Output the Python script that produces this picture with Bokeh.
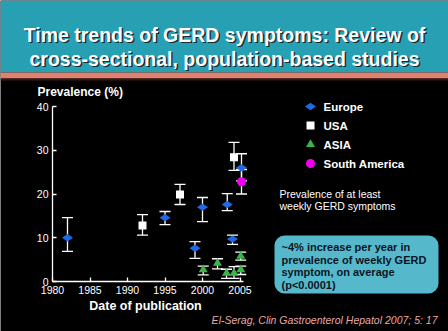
import numpy as np
from bokeh.plotting import figure
from bokeh.models import Range1d, LinearAxis, FixedTicker, ColumnDataSource, Whisker, TeeHead, BoxAnnotation
from bokeh.core.properties import value
from bokeh.embed import file_html
from bokeh.resources import INLINE

# ---------------- data ----------------
europe_year = [1982, 1995, 1999, 2000, 2003.3, 2004, 2005.2]
europe_prev = [10.0, 14.6, 7.6, 17.0, 17.6, 9.7, 26.0]
europe_low = [6.9, 13.0, 5.3, 13.7, 16.2, 8.5, 23.0]
europe_high = [14.6, 16.0, 9.1, 19.2, 20.1, 10.6, 29.2]

usa_year = [1992, 1997, 2004.2]
usa_prev = [12.8, 19.9, 28.4]
usa_low = [10.6, 17.6, 25.4]
usa_high = [15.3, 22.2, 31.8]

asia_year = [2000.1, 2002, 2003.2, 2004.2, 2005.1, 2005.1]
asia_prev = [2.7, 4.2, 1.9, 1.9, 5.8, 2.7]
asia_low = [1.5, 2.9, 0.7, 0.7, 4.9, 1.6]
asia_high = [3.5, 5.2, 2.8, 3.4, 6.7, 3.5]

sa_year = [2005.2]
sa_prev = [22.8]
sa_low = [20.0]
sa_high = [25.6]

x_ticks = [1980, 1985, 1990, 1995, 2000, 2005]
y_ticks = [0, 10, 20, 30, 40]

legend_names = ["Europe", "USA", "ASIA", "South America"]
title_lines = ["Time trends of GERD symptoms: Review of",
               "cross-sectional, population-based studies"]
note_lines = ["Prevalence of at least", "weekly GERD symptoms"]
box_lines = ["~4% increase per year in", "prevalence of weekly GERD",
             "symptom, on average", "(p<0.0001)"]
citation = "El-Serag, Clin Gastroenterol Hepatol 2007; 5: 17"

# ---------------- layout ----------------
W, H = 448, 331
FONT = "Liberation Sans"
PX_PER_YEAR = 7.5
PX_PER_PCT = 4.375
X_AX_PX, Y_AX_PX = 52, 281
X0 = 1980 - X_AX_PX / PX_PER_YEAR
X1 = X0 + W / PX_PER_YEAR
Y1 = Y_AX_PX / PX_PER_PCT
Y0 = Y1 - H / PX_PER_PCT

p = figure(width=W, height=H, x_range=Range1d(X0, X1), y_range=Range1d(Y0, Y1),
           x_axis_type=None, y_axis_type=None, toolbar_location=None,
           output_backend="svg", min_border=0,
           background_fill_color="black", border_fill_color="black",
           outline_line_color=None)
p.extra_x_ranges = {"px": Range1d(0, W)}
p.extra_y_ranges = {"px": Range1d(H, 0)}
PX = dict(x_range_name="px", y_range_name="px")

# title band
p.quad(left=0, right=W, top=0, bottom=72, fill_color="#28a0b4", line_color=None, **PX)
p.quad(left=0, right=W, top=72, bottom=78, fill_color="#e0806e", line_color=None, **PX)
p.quad(left=0, right=W, top=78, bottom=80, fill_color="#3a1a16", line_color=None, **PX)
p.text(x=[225.5, 225.5], y=[35.5, 59.5], text=title_lines, text_color="#1a2a30",
       text_align="center", text_baseline="middle", text_font=value(FONT),
       text_font_style="bold", text_font_size="19.5px", **PX)
p.text(x=[224, 224], y=[34, 58], text=title_lines, text_color="white",
       text_align="center", text_baseline="middle", text_font=value(FONT),
       text_font_style="bold", text_font_size="19.5px", **PX)

# axes
def style_axis(ax):
    ax.axis_line_color = "white"
    ax.axis_line_width = 1.3
    ax.major_tick_line_color = "white"
    ax.major_tick_line_width = 1.3
    ax.major_tick_in = 4
    ax.major_tick_out = 0
    ax.minor_tick_line_color = None
    ax.major_label_text_color = "white"
    ax.major_label_text_font = FONT
    ax.major_label_text_font_size = "10.5px"

yaxis = LinearAxis(fixed_location=1980, bounds=(0, 40), ticker=FixedTicker(ticks=y_ticks))
style_axis(yaxis)
yaxis.major_label_standoff = 4
p.add_layout(yaxis, "left")
xaxis = LinearAxis(fixed_location=0, bounds=(1980, 2005.5), ticker=FixedTicker(ticks=x_ticks))
style_axis(xaxis)
xaxis.major_label_standoff = 4
p.add_layout(xaxis, "below")

p.text(x=[37], y=[91], text=["Prevalence (%)"], text_color="white", text_baseline="middle",
       text_font=value(FONT), text_font_style="bold", text_font_size="12px", **PX)
p.text(x=[145], y=[305], text=["Date of publication"], text_color="white",
       text_align="center", text_baseline="middle",
       text_font=value(FONT), text_font_style="bold", text_font_size="12.5px", **PX)

# error bars
for yrs, lo, hi in [(europe_year, europe_low, europe_high), (usa_year, usa_low, usa_high),
                    (asia_year, asia_low, asia_high), (sa_year, sa_low, sa_high)]:
    src = ColumnDataSource(dict(x=yrs, lo=lo, hi=hi))
    w = Whisker(source=src, base="x", lower="lo", upper="hi", line_color="white",
                line_width=1.3, level="underlay",
                upper_head=TeeHead(size=11, line_color="white", line_width=1.3),
                lower_head=TeeHead(size=11, line_color="white", line_width=1.3))
    p.add_layout(w)

EU_C, US_C, AS_C, SA_C = "#1e6ae6", "white", "#3cb44a", "#f000f0"
p.scatter(usa_year, usa_prev, marker="square", size=8, fill_color=US_C, line_color=None)
p.scatter(europe_year, europe_prev, marker="diamond", size=11, angle=np.pi / 2,
          fill_color=EU_C, line_color=None)
p.scatter(asia_year, asia_prev, marker="triangle", size=9, fill_color=AS_C, line_color=None)
p.scatter(sa_year, sa_prev, marker="circle", size=9, fill_color=SA_C, line_color=None)

# legend
leg_y = [106, 125, 144, 163]
p.scatter([310], [leg_y[0]], marker="diamond", size=11, angle=np.pi / 2, fill_color=EU_C, line_color=None, **PX)
p.scatter([310], [leg_y[1]], marker="square", size=8, fill_color=US_C, line_color=None, **PX)
p.scatter([310], [leg_y[2]], marker="triangle", size=9, fill_color=AS_C, line_color=None, **PX)
p.scatter([310], [leg_y[3]], marker="circle", size=9, fill_color=SA_C, line_color=None, **PX)
p.text(x=[323] * 4, y=leg_y, text=legend_names, text_color="white", text_baseline="middle",
       text_font=value(FONT), text_font_style="bold", text_font_size="11.5px", **PX)

p.text(x=[279, 279], y=[193, 205], text=note_lines, text_color="white", text_baseline="middle",
       text_font=value(FONT), text_font_size="10.5px", **PX)

# callout box
box = BoxAnnotation(left=274, right=438, top=235, bottom=293, fill_color="#55b9cb",
                    fill_alpha=1.0, line_color=None, border_radius=10, level="underlay", **PX)
p.add_layout(box)
p.text(x=[281] * 4, y=[246, 259, 271.5, 284], text=box_lines, text_color="#0c1424",
       text_baseline="middle", text_font=value(FONT), text_font_style="bold",
       text_font_size="11px", **PX)

p.text(x=[437], y=[319], text=[citation], text_color="#e8a8a8", text_align="right",
       text_baseline="middle", text_font=value(FONT), text_font_style="italic",
       text_font_size="10.5px", **PX)

open("out.html", "w").write(file_html(p, INLINE))
